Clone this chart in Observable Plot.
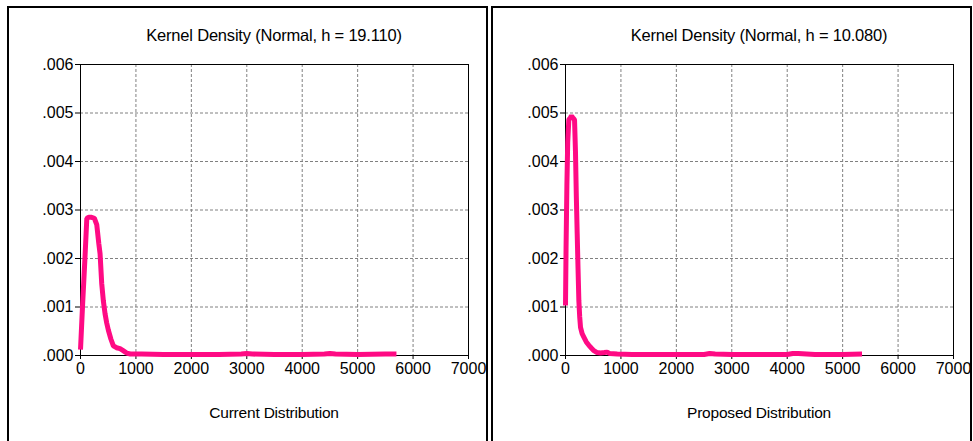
<!DOCTYPE html>
<html>
<head>
<meta charset="utf-8">
<script src="https://cdn.jsdelivr.net/npm/d3@7"></script>
<script src="https://cdn.jsdelivr.net/npm/@observablehq/plot@0.6"></script>
<style>
  body { margin: 0; background: #fff; font-family: "Liberation Sans", Arial, sans-serif; }
  #wrap { position: relative; width: 973px; height: 441px; overflow: hidden; }
  .panel { position: absolute; top: 6px; height: 440px; border: 2px solid #000; border-bottom: none; box-sizing: border-box; }
  .title { position: absolute; top: 26px; font-size: 16.5px; letter-spacing: -0.2px; text-align: center; color: #000; white-space: nowrap; }
  .xlabel { position: absolute; top: 404px; font-size: 15.5px; letter-spacing: -0.2px; text-align: center; color: #000; white-space: nowrap; }
  .plotbox { position: absolute; top: 50px; }
</style>
</head>
<body>
<div id="wrap"></div>
<script>
// Titles and labels
const titles = ["Kernel Density (Normal, h = 19.110)", "Kernel Density (Normal, h = 10.080)"];
const xLabels = ["Current Distribution", "Proposed Distribution"];
const xTicks = [0, 1000, 2000, 3000, 4000, 5000, 6000, 7000];
const yTicks = [0, 0.001, 0.002, 0.003, 0.004, 0.005, 0.006];

// Current distribution density
const currentX = [0, 40, 80, 114, 150, 200, 250, 293, 330, 353, 383, 413, 443, 473, 503, 548, 593, 650, 713, 770, 832, 900, 952, 1100, 1500, 2000, 2500, 2900, 3000, 3100, 3500, 4000, 4400, 4500, 4600, 5000, 5500, 5700];
const currentY = [0.00012, 0.0011, 0.0020, 0.00283, 0.00285, 0.00285, 0.00283, 0.0027, 0.00231, 0.0021, 0.00148, 0.00112, 0.00086, 0.00067, 0.00052, 0.00034, 0.0002, 0.00016, 0.00014, 0.0001, 0.00005, 0.00003, 0.00003, 0.00003, 0.00002, 0.00002, 0.00002, 0.00003, 0.00004, 0.00003, 0.00002, 0.00002, 0.00003, 0.00004, 0.00003, 0.00002, 0.00003, 0.00003];

// Proposed distribution density
const proposedX = [0, 10, 25, 40, 60, 85, 108, 135, 163, 180, 195, 211, 226, 241, 256, 271, 300, 331, 375, 422, 470, 512, 570, 633, 700, 753, 800, 934, 1200, 1500, 2000, 2500, 2600, 2700, 3000, 3500, 4000, 4100, 4200, 4500, 5000, 5350];
const proposedY = [0.00103, 0.0022, 0.0035, 0.0044, 0.00486, 0.0049, 0.00494, 0.0049, 0.00486, 0.0042, 0.0033, 0.00251, 0.0018, 0.00113, 0.0008, 0.00058, 0.00045, 0.00038, 0.00028, 0.00021, 0.00015, 0.0001, 0.00006, 0.00005, 0.00006, 0.00007, 0.00004, 0.00003, 0.00002, 0.00002, 0.00002, 0.00002, 0.00004, 0.00003, 0.00002, 0.00002, 0.00002, 0.00004, 0.00004, 0.00002, 0.00002, 0.00003];

const seriesX = [currentX, proposedX];
const seriesY = [currentY, proposedY];

const wrap = document.getElementById("wrap");
const panelLeft = [7, 491];
const panelWidth = [481, 481];
const fmt = d => d3.format(".3f")(d).replace(/^0/, "");

for (let i = 0; i < 2; i++) {
  const off = i === 0 ? 0 : 485;
  const panel = document.createElement("div");
  panel.className = "panel";
  panel.style.left = panelLeft[i] + "px";
  panel.style.width = panelWidth[i] + "px";
  wrap.appendChild(panel);

  const data = seriesX[i].map((x, j) => ({x, y: seriesY[i][j]}));
  const plotLeft = 8 + off; // svg left in page coords
  const chart = Plot.plot({
    width: 480,
    height: 340,
    marginLeft: 72,
    marginRight: 20,
    marginTop: 14,
    marginBottom: 35,
    style: {fontFamily: "'Liberation Sans', Arial, sans-serif", fontSize: "16px", color: "#000", background: "transparent", overflow: "visible"},
    x: {domain: [0, 7000], ticks: xTicks, tickFormat: d => String(d), label: null},
    y: {domain: [0, 0.006], ticks: yTicks, tickFormat: fmt, label: null},
    marks: [
      Plot.gridX(xTicks, {stroke: "#808080", strokeOpacity: 1, strokeDasharray: "3,2"}),
      Plot.gridY(yTicks, {stroke: "#808080", strokeOpacity: 1, strokeDasharray: "3,2"}),
      Plot.frame({stroke: "#000", strokeWidth: 1}),
      Plot.axisX(xTicks, {tickSize: 4, tickPadding: 3, tickFormat: d => String(d), label: null, stroke: "#000", fontSize: 16}),
      Plot.axisY(yTicks, {tickSize: 5, tickPadding: 2, tickFormat: fmt, label: null, stroke: "#000", fontSize: 16}),
      Plot.line(data, {x: "x", y: "y", stroke: "#FF0A84", strokeWidth: 5, strokeLinejoin: "miter", strokeLinecap: "butt"})
    ]
  });
  const box = document.createElement("div");
  box.className = "plotbox";
  box.style.left = plotLeft + "px";
  box.appendChild(chart);
  wrap.appendChild(box);

  const cx = 274 + off;
  const t = document.createElement("div");
  t.className = "title";
  t.style.left = (cx - 200) + "px";
  t.style.width = "400px";
  t.textContent = titles[i];
  wrap.appendChild(t);

  const xl = document.createElement("div");
  xl.className = "xlabel";
  xl.style.left = (cx - 200) + "px";
  xl.style.width = "400px";
  xl.textContent = xLabels[i];
  wrap.appendChild(xl);
}
</script>
</body>
</html>
